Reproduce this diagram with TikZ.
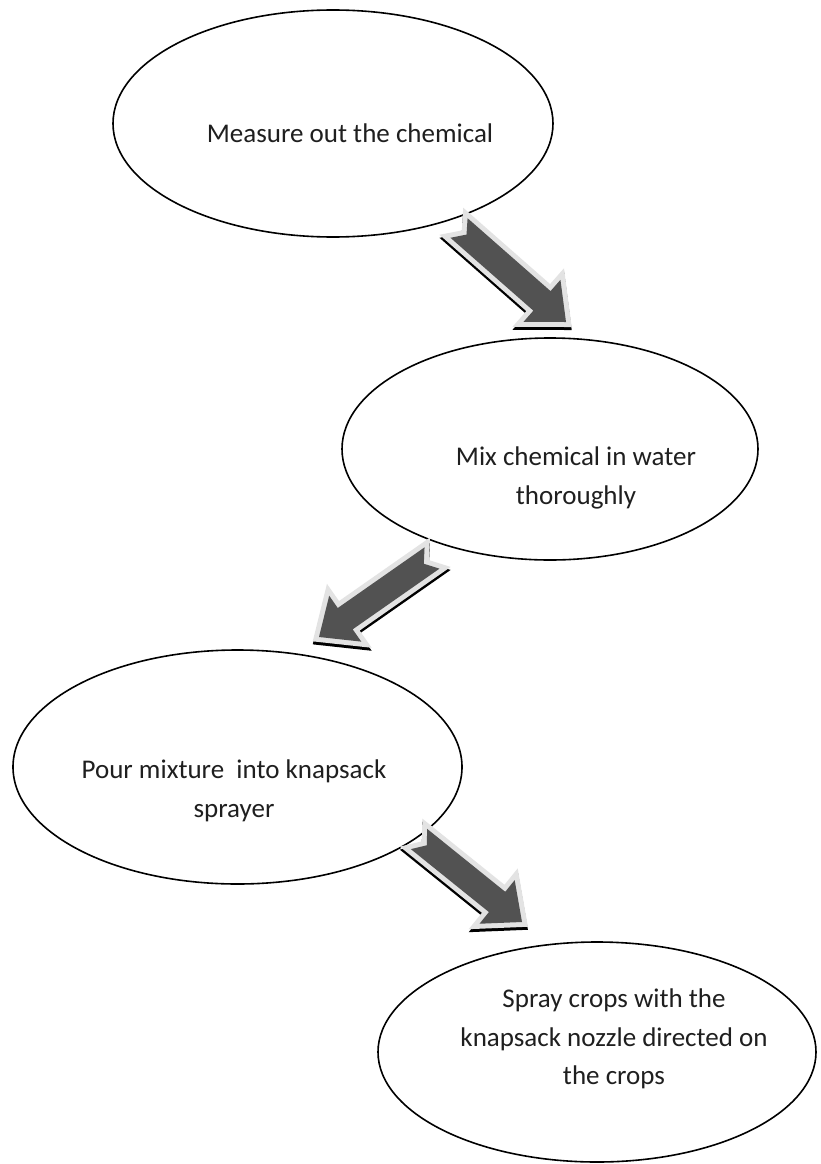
\documentclass[tikz,border=0pt]{standalone}
\usepackage{fontspec}
\setmainfont{Carlito}
\usetikzlibrary{calc,shapes.geometric}

% Outline of a block arrow with a notched tail, from #1 (tail) to #2 (tip)
\newcommand{\notchoutline}[2]{%
  ($(#1)!13pt!90:(#2)$) --
  ($(#2)!32pt!(#1)!13pt!90:(#2)$) --
  ($(#2)!32pt!(#1)!28pt!90:(#2)$) --
  (#2) --
  ($(#2)!32pt!(#1)!28pt!-90:(#2)$) --
  ($(#2)!32pt!(#1)!13pt!-90:(#2)$) --
  ($(#1)!13pt!-90:(#2)$) --
  ($(#1)!10pt!(#2)$) -- cycle}

% Shadow, pale rim and dark body of one block arrow
\newcommand{\blockarrow}[2]{%
  \path[arrowshadow] \notchoutline{#1}{#2};
  \path[arrowrim] \notchoutline{#1}{#2};
  \path[arrowbody] \notchoutline{#1}{#2};}

\begin{document}
\begin{tikzpicture}[x=1pt,y=-1pt,
  bubble/.style={draw=black, line width=1.6pt, ellipse, inner sep=0pt},
  caption/.style={font=\fontsize{27}{38.5}\selectfont, align=center, text=black!88},
  arrowshadow/.style={draw=black, fill=black, line width=10pt, line join=miter,
    transform canvas={yshift=-3pt}},
  arrowrim/.style={draw=gray!22, fill=gray!22, line width=10pt, line join=miter},
  arrowbody/.style={fill=black!68}]
\fill[white] (0,0) rectangle (820,1164);
\useasboundingbox (0,0) rectangle (820,1164);

% the four steps
\node[bubble, minimum width=440pt, minimum height=227pt] (e1) at (333,123.5) {};
\node[caption] (t1) at (350,133) {Measure out the chemical};

\node[bubble, minimum width=416pt, minimum height=222pt] (e2) at (550,449) {};
\node[caption] (t2) at (576,478) {Mix chemical in water\\thoroughly};

\node[bubble, minimum width=449pt, minimum height=234pt] (e3) at (237.5,767) {};
\node[caption] (t3) at (234,791) {Pour mixture\ \ into knapsack\\sprayer};

\node[bubble, minimum width=438pt, minimum height=220pt] (e4) at (597,1052) {};
\node[caption] (t4) at (614,1039) {Spray crops with the\\knapsack nozzle directed on\\the crops};

% arrow ends
\coordinate (a1s) at (459,228);
\coordinate (a1e) at (566,322);
\coordinate (a2s) at (432,558);
\coordinate (a2e) at (319,637);
\coordinate (a3s) at (419,839);
\coordinate (a3e) at (522,922);

\blockarrow{a1s}{a1e}
\blockarrow{a2s}{a2e}
\blockarrow{a3s}{a3e}
\end{tikzpicture}
\end{document}
